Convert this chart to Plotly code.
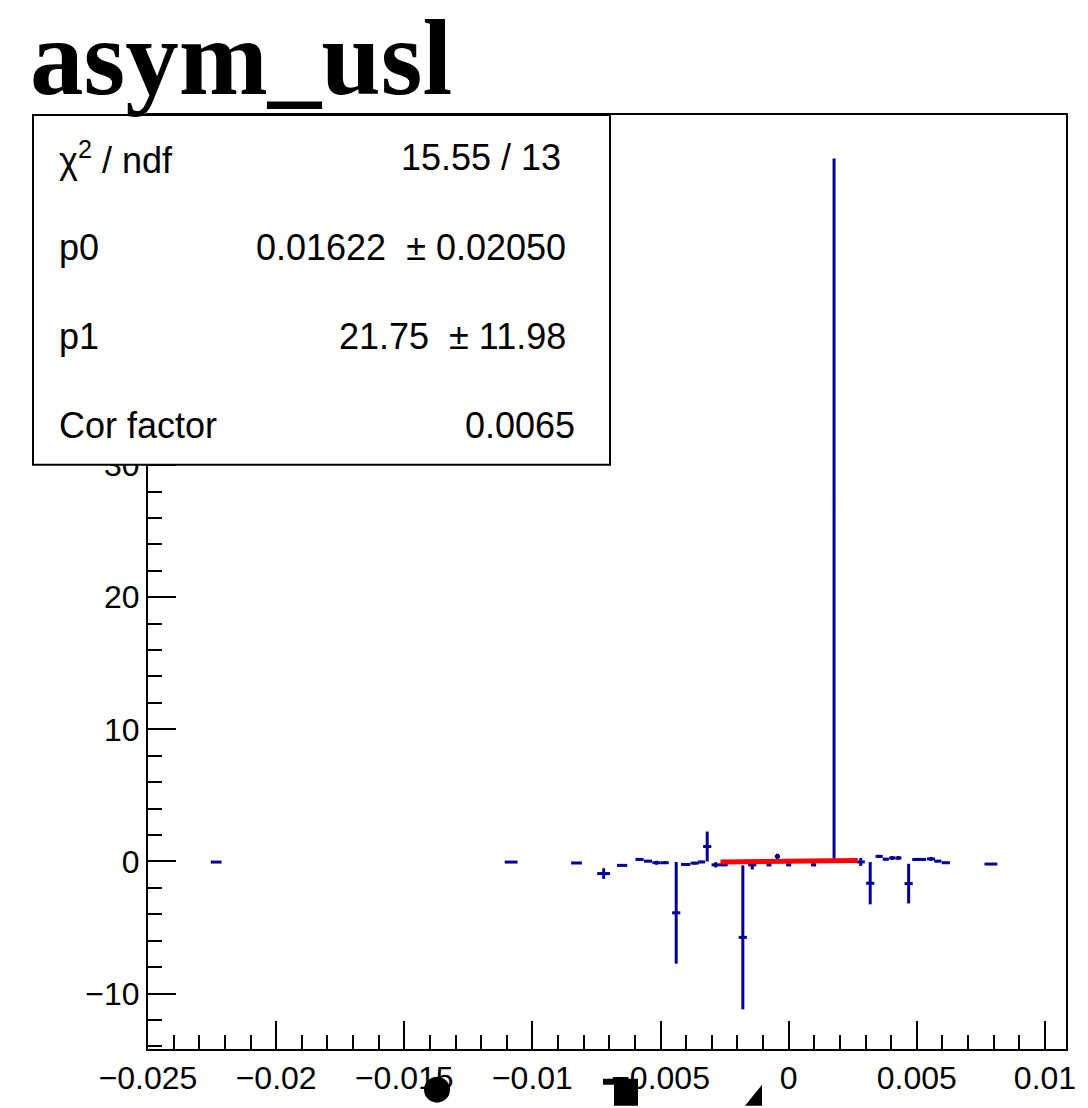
import plotly.graph_objects as go

# ---- data ----
x_vals = [-0.02234, -0.01083, -0.00828, -0.00722, -0.00650, -0.00582, -0.00549, -0.00516,
          -0.00484, -0.00439, -0.00402, -0.00367, -0.00340, -0.00318, -0.00285, -0.00254,
          -0.00179, -0.00142, -0.00077, -0.00044, 0.00000, 0.00097, 0.00177, 0.00281,
          0.00318, 0.00353, 0.00379, 0.00404, 0.00428, 0.00468, 0.00496, 0.00522,
          0.00555, 0.00582, 0.00613, 0.00789]
y_vals = [-0.05, -0.05, -0.12, -0.92, -0.30, 0.15, 0.02, -0.10,
          -0.10, -3.89, -0.23, -0.13, -0.04, 1.13, -0.26, -0.26,
          -5.75, -0.26, -0.26, 0.38, -0.26, -0.26, 26.7, -0.04,
          -1.65, 0.38, 0.17, 0.26, 0.26, -1.68, 0.15, 0.15,
          0.19, 0.02, -0.10, -0.20]
x_errs = [0.00021, 0.00025, 0.00021, 0.00025, 0.00020, 0.00016, 0.00016, 0.00016,
          0.00016, 0.00016, 0.00018, 0.00016, 0.00014, 0.00016, 0.00016, 0.00016,
          0.00016, 0.00016, 0.00010, 0.00010, 0.00010, 0.00010, 0.00004, 0.00016,
          0.00016, 0.00014, 0.00012, 0.00012, 0.00012, 0.00016, 0.00014, 0.00014,
          0.00016, 0.00014, 0.00016, 0.00025]
y_errs = [0.05, 0.05, 0.05, 0.40, 0.08, 0.08, 0.08, 0.15,
          0.10, 3.85, 0.10, 0.10, 0.10, 1.13, 0.20, 0.10,
          5.45, 0.35, 0.10, 0.20, 0.10, 0.10, 26.5, 0.30,
          1.60, 0.12, 0.10, 0.15, 0.15, 1.50, 0.10, 0.10,
          0.15, 0.08, 0.08, 0.05]

fit_x = [-0.00266, 0.00270]
fit_y = [-0.0416, 0.0749]

x_ticks = [-0.025, -0.02, -0.015, -0.01, -0.005, 0, 0.005, 0.01]
x_tick_text = ["\u22120.025", "\u22120.02", "\u22120.015", "\u22120.01", "\u22120.005", "0", "0.005", "0.01"]

title_text = "asym_usl"
stat_labels = ["\u03c7<sup>2</sup> / ndf", "p0", "p1", "Cor factor"]
stat_values = ["15.55 / 13", "0.01622  \u00b1 0.02050", "21.75  \u00b1 11.98", "0.0065"]

# ---- geometry helpers (page pixel -> paper) ----
W, H = 1088, 1108
K = 0.9926                  # vertical correction between measured and rendered pixels


def ty(yr):
    return 115 + (yr - 115) / K


L, R, T, B = 148, 1066, 115, ty(1055)   # plot frame in page pixels
PW, PH = R - L, B - T


def px(xp):
    return (xp - L) / PW


def py(yp):
    return (B - ty(yp)) / PH


NAVY = "#000099"
FONT = "Liberation Sans, Arial, Helvetica, sans-serif"

fig = go.Figure()
fig.add_trace(go.Scatter(
    x=x_vals, y=y_vals, mode="markers",
    marker=dict(size=0.1, color=NAVY, opacity=0),
    error_x=dict(type="data", array=x_errs, width=0, thickness=3, color=NAVY),
    error_y=dict(type="data", array=y_errs, width=0, thickness=3, color=NAVY),
    showlegend=False, hoverinfo="x+y",
))
fig.add_trace(go.Scatter(
    x=fit_x, y=fit_y, mode="lines",
    line=dict(color="#ff0000", width=5),
    showlegend=False,
))

axis_common = dict(
    showgrid=False, zeroline=False, showline=True, linecolor="black", linewidth=2,
    mirror=True, ticks="inside", ticklen=28, tickwidth=2, tickcolor="black",
    tickfont=dict(family=FONT, size=32, color="black"),
)
fig.update_xaxes(
    range=[-0.025, 0.01082], tickvals=x_ticks, ticktext=x_tick_text,
    minor=dict(dtick=0.001, tick0=-0.025, ticks="inside", ticklen=14, tickwidth=2, tickcolor="black"),
    **axis_common,
)
fig.update_yaxes(
    range=[-14.2, 56.5], dtick=10, tick0=0,
    minor=dict(dtick=2, tick0=0, ticks="inside", ticklen=14, tickwidth=2, tickcolor="black"),
    **axis_common,
)

shapes = []
# stats box
shapes.append(dict(type="rect", xref="paper", yref="paper",
                   x0=px(33), x1=px(610), y0=py(467), y1=py(115),
                   line=dict(color="black", width=2), fillcolor="white", layer="above"))
# clipped large glyph fragments at the bottom edge
cx, cy, r = 437, 1096, 13
shapes.append(dict(type="circle", xref="paper", yref="paper",
                   x0=px(cx - r), x1=px(cx + r), y0=py(cy + r), y1=py(cy - r),
                   line=dict(width=0), fillcolor="black", layer="above"))
shapes.append(dict(type="path", xref="paper", yref="paper",
                   path=(f"M {px(603)},{py(1085)} L {px(638)},{py(1085)} L {px(638)},{py(1112)} "
                         f"L {px(614)},{py(1112)} L {px(614)},{py(1091)} L {px(603)},{py(1091)} Z"),
                   line=dict(width=0), fillcolor="black", layer="above"))
shapes.append(dict(type="path", xref="paper", yref="paper",
                   path=f"M {px(762)},{py(1091)} L {px(762)},{py(1112)} L {px(745)},{py(1112)} Z",
                   line=dict(width=0), fillcolor="black", layer="above"))

annotations = []
annotations.append(dict(text=f"<b>{title_text}</b>", xref="paper", yref="paper",
                        x=px(28), y=py(58), xanchor="left", yanchor="middle", showarrow=False,
                        font=dict(family="Liberation Serif, Times New Roman, serif", size=107, color="black")))
row_y = [158, 248, 338, 427]
val_x = [563, 568, 568, 577]
for lab, val, yy, vx in zip(stat_labels, stat_values, row_y, val_x):
    annotations.append(dict(text=lab, xref="paper", yref="paper", x=px(57), y=py(yy),
                            xanchor="left", yanchor="middle", showarrow=False,
                            font=dict(family=FONT, size=36, color="black")))
    annotations.append(dict(text=val, xref="paper", yref="paper", x=px(vx), y=py(yy),
                            xanchor="right", yanchor="middle", showarrow=False,
                            font=dict(family=FONT, size=36, color="black")))

fig.update_layout(
    width=W, height=H, autosize=False,
    margin=dict(l=L, r=W - R, t=T, b=H - B, pad=0),
    paper_bgcolor="white", plot_bgcolor="white",
    shapes=shapes, annotations=annotations,
    showlegend=False,
)

fig.write_html(
    "out.html",
    config={"displayModeBar": False},
    post_script="document.body.style.margin='0';document.body.style.overflow='hidden';",
)
